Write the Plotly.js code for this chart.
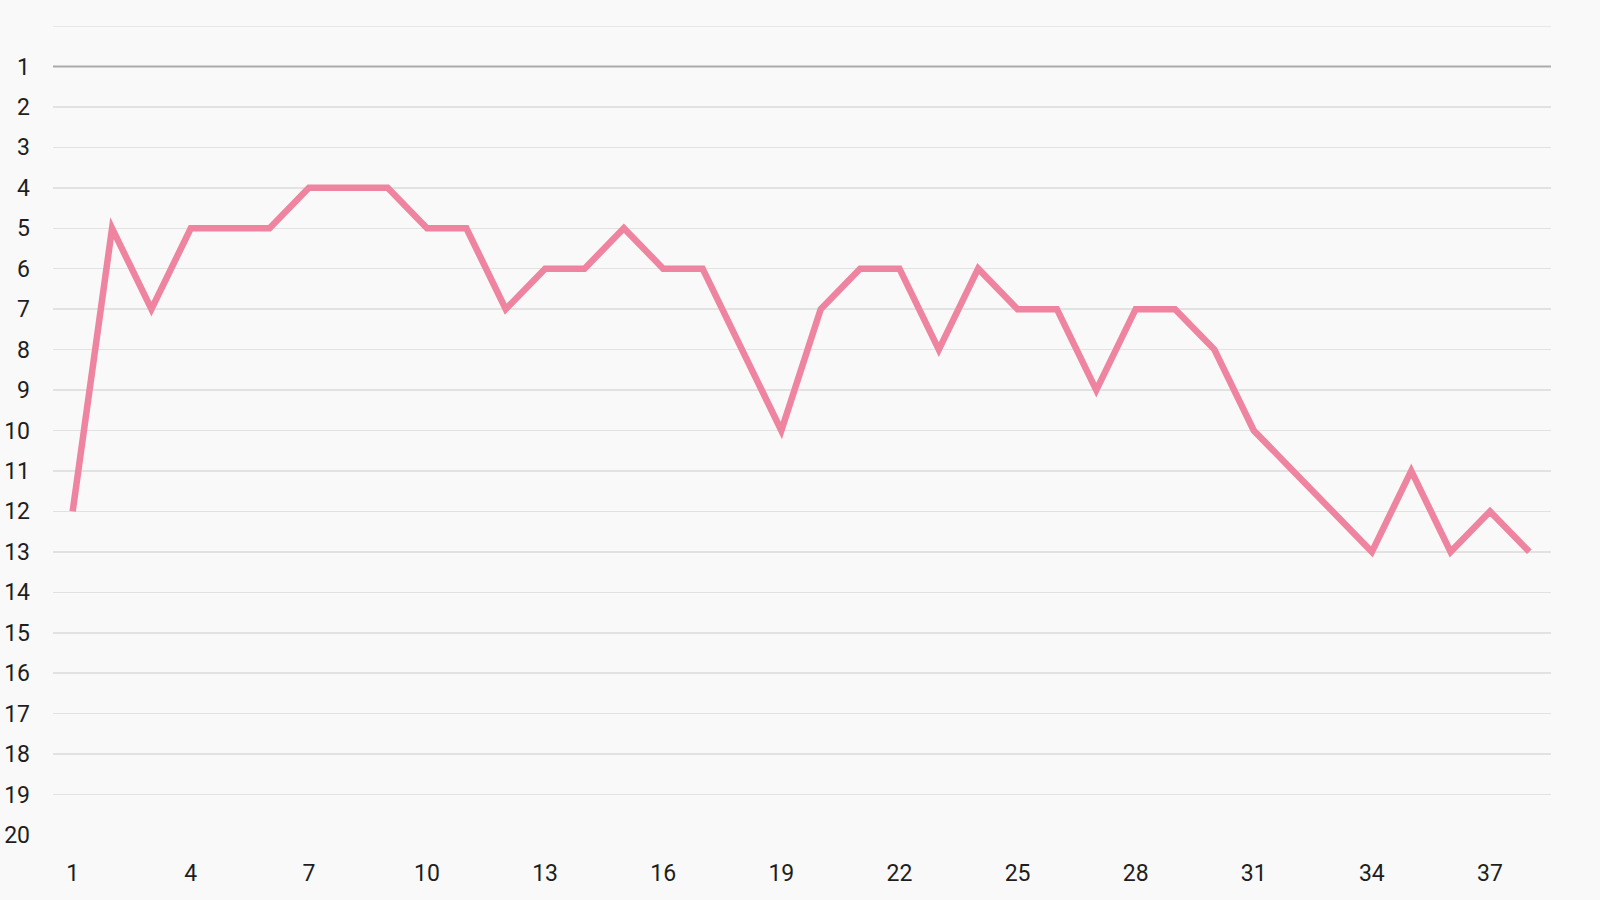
<!DOCTYPE html>
<html>
<head>
<meta charset="utf-8">
<script src="https://cdn.plot.ly/plotly-3.0.1.min.js"></script>
<style>
html,body{margin:0;padding:0;background:#f9f9f9;}
#chart{width:1600px;height:900px;}
#chart path.js-line{stroke-linejoin:miter !important;stroke-miterlimit:10;}
</style>
</head>
<body>
<div id="chart"></div>
<script>
const matchdays = [1,2,3,4,5,6,7,8,9,10,11,12,13,14,15,16,17,18,19,20,21,22,23,24,25,26,27,28,29,30,31,32,33,34,35,36,37,38];
const positions = [12,5,7,5,5,5,4,4,4,5,5,7,6,6,5,6,6,8,10,7,6,6,8,6,7,7,9,7,7,8,10,11,12,13,11,13,12,13];
const yTicks = [1,2,3,4,5,6,7,8,9,10,11,12,13,14,15,16,17,18,19,20];

const trace = {
  x: matchdays,
  y: positions,
  type: 'scatter',
  mode: 'lines',
  line: {color: '#EE84A0', width: 6.5},
  hoverinfo: 'x+y'
};

const layout = {
  width: 1600,
  height: 900,
  paper_bgcolor: '#f9f9f9',
  plot_bgcolor: '#f9f9f9',
  margin: {l: 53, r: 49, t: 26, b: 65},
  showlegend: false,
  font: {family: 'Roboto, sans-serif', size: 23, color: '#222'},
  xaxis: {
    range: [0.5, 38.55],
    tickmode: 'linear',
    tick0: 1,
    dtick: 3,
    showgrid: false,
    zeroline: false,
    showline: false,
    ticks: '',
    ticklabelstandoff: 22,
    tickfont: {family: 'Roboto, sans-serif', size: 23, color: '#1e1e1e'}
  },
  yaxis: {
    range: [20, 0],
    tickmode: 'array',
    tickvals: yTicks,
    ticktext: yTicks.map(String),
    showgrid: true,
    gridcolor: '#e2e2e2',
    gridwidth: 1.5,
    zeroline: false,
    showline: false,
    ticks: '',
    ticklabelstandoff: 22,
    tickfont: {family: 'Roboto, sans-serif', size: 23, color: '#1e1e1e'}
  },
  shapes: [
    {type: 'line', xref: 'paper', x0: 0, x1: 1, yref: 'y', y0: 0, y1: 0, line: {color: '#e2e2e2', width: 1.5}, layer: 'below'},
    {type: 'line', xref: 'paper', x0: 0, x1: 1, yref: 'y', y0: 1, y1: 1, line: {color: '#ababab', width: 2}, layer: 'above'}
  ]
};

Plotly.newPlot('chart', [trace], layout, {displayModeBar: false, staticPlot: true});
</script>
</body>
</html>
